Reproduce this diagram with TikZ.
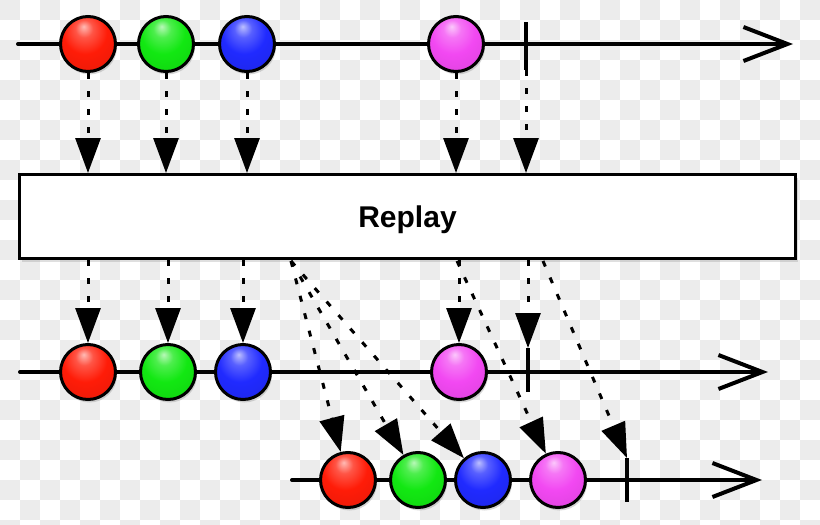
\documentclass[tikz,border=0pt]{standalone}
\usepackage{fontspec}
\setmainfont{Liberation Sans}
\usetikzlibrary{arrows.meta,shadows}

\definecolor{checker}{RGB}{236,236,236}
\definecolor{cred}{RGB}{255,28,8}
\definecolor{cgreen}{RGB}{18,232,18}
\definecolor{cblue}{RGB}{32,42,255}
\definecolor{cmag}{RGB}{242,72,242}

\newcommand\mkballshade[2]{%
  \pgfdeclareradialshading{#1}{\pgfpoint{-4bp}{16bp}}{%
    color(0bp)=(#2!30!white); color(8bp)=(#2!75!white); color(20bp)=(#2);
    color(45bp)=(#2!88!black); color(62bp)=(#2!65!black)}}
\mkballshade{shRed}{cred}
\mkballshade{shGreen}{cgreen}
\mkballshade{shBlue}{cblue}
\mkballshade{shMag}{cmag}

\begin{document}
\begin{tikzpicture}[x=1pt,y=-1pt,
  ballnode/.style={circle, draw=black, line width=3pt, minimum size=55pt, inner sep=0pt,
    shade, drop shadow={opacity=0.3, shadow xshift=1.5pt, shadow yshift=-3pt}},
  redball/.style={ballnode, shading=shRed},
  greenball/.style={ballnode, shading=shGreen},
  blueball/.style={ballnode, shading=shBlue},
  magball/.style={ballnode, shading=shMag},
  timeline/.style={line width=4pt, line cap=round,
    -{Straight Barb[length=44pt, width=34pt]}},
  tickline/.style={line width=3.5pt},
  dotarrow/.style={line width=3pt, dash pattern=on 6pt off 12pt,
    -{Triangle[length=35pt, width=25pt]}},
  opbox/.style={draw=black, line width=3pt, fill=white, minimum width=776pt,
    minimum height=84pt, inner sep=0pt, text depth=0pt,
    font=\bfseries\fontsize{30}{36}\selectfont,
    drop shadow={opacity=0.25, shadow xshift=2pt, shadow yshift=-3pt}}
]
\useasboundingbox (0,0) rectangle (820,525);

% checkerboard background
\begin{scope}
  \clip (0,0) rectangle (820,525);
  \fill[white] (0,0) rectangle (820,525);
  \foreach \i in {0,...,40} {
    \foreach \j in {0,...,26} {
      \pgfmathtruncatemacro\parity{mod(\i+\j,2)}
      \ifnum\parity=0 \fill[checker] (\i*20,\j*20) rectangle ++(20,20); \fi
    }
  }
\end{scope}

% timelines
\coordinate (tl1s) at (18,44);  \coordinate (tl1e) at (793,44);
\coordinate (tl2s) at (20,372); \coordinate (tl2e) at (768,372);
\coordinate (tl3s) at (292,480); \coordinate (tl3e) at (762,480);
\draw[timeline] (tl1s) -- (tl1e);
\draw[timeline] (tl2s) -- (tl2e);
\draw[timeline] (tl3s) -- (tl3e);

% completion ticks
\coordinate (k1a) at (526,22);  \coordinate (k1b) at (526,70);
\coordinate (k2a) at (528,348); \coordinate (k2b) at (528,392);
\coordinate (k3a) at (627,458); \coordinate (k3b) at (627,502);
\draw[tickline] (k1a) -- (k1b);
\draw[tickline] (k2a) -- (k2b);
\draw[tickline] (k3a) -- (k3b);

% top source
\node[redball]   (t1) at (88,44) {};
\node[greenball] (t2) at (166,44) {};
\node[blueball]  (t3) at (247,44) {};
\node[magball]   (t4) at (456,44) {};

% middle subscriber
\node[redball]   (m1) at (88,372) {};
\node[greenball] (m2) at (168,372) {};
\node[blueball]  (m3) at (243,372) {};
\node[magball]   (m4) at (459,372) {};

% late subscriber
\node[redball]   (b1) at (348,480) {};
\node[greenball] (b2) at (418,480) {};
\node[blueball]  (b3) at (483,480) {};
\node[magball]   (b4) at (558,480) {};

% operator box
\node[opbox] (replay) at (407.5,216.5) {Replay};

% arrows into the operator
\draw[dotarrow] (t1) -- (t1 |- replay.north);
\draw[dotarrow] (t2) -- (t2 |- replay.north);
\draw[dotarrow] (t3) -- (t3 |- replay.north);
\draw[dotarrow] (t4) -- (t4 |- replay.north);
\draw[dotarrow] (k1b) -- (k1b |- replay.north);

% arrows to the first subscriber
\draw[dotarrow] (m1 |- replay.south) -- (m1);
\draw[dotarrow] (m2 |- replay.south) -- (m2);
\draw[dotarrow] (m3 |- replay.south) -- (m3);
\draw[dotarrow] (m4 |- replay.south) -- (m4);
\draw[dotarrow] (k2a |- replay.south) -- (k2a);

% replayed arrows to the late subscriber
\coordinate (s1) at (291,261);
\coordinate (s4) at (457,261);
\coordinate (s5) at (543,261);
\draw[dotarrow] (s1) -- (b1);
\draw[dotarrow] (s1) -- (b2);
\draw[dotarrow] (s1) -- (b3);
\draw[dotarrow] (s4) -- (b4);
\draw[dotarrow] (s5) -- (k3a);
\end{tikzpicture}
\end{document}
